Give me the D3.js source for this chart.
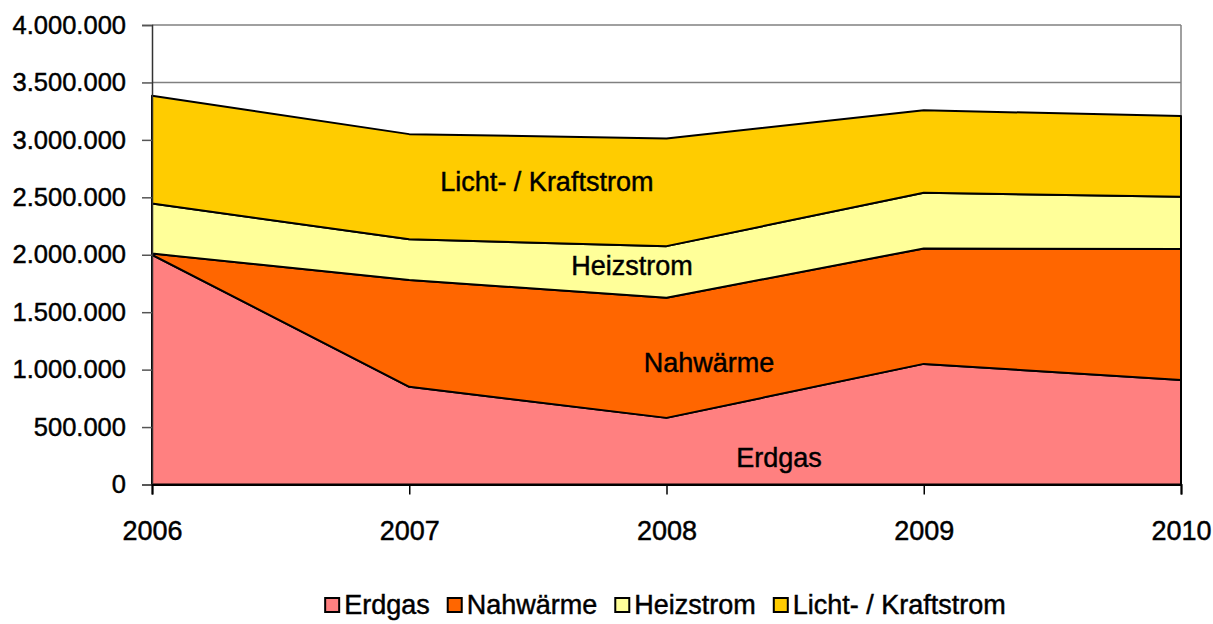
<!DOCTYPE html>
<html>
<head>
<meta charset="utf-8">
<script src="https://cdn.jsdelivr.net/npm/d3@7/dist/d3.min.js"></script>
<style>
  html, body { margin: 0; padding: 0; background: #fff; }
  svg text { font-family: "Liberation Sans", Arial, sans-serif; fill: #000; stroke: #000; stroke-width: 0.45px; }
</style>
</head>
<body>
<svg id="chart" width="1213" height="624"></svg>
<script>
// ---- Data ----
const years = [2006, 2007, 2008, 2009, 2010];
const seriesNames = ["Erdgas", "Nahwärme", "Heizstrom", "Licht- / Kraftstrom"];
const erdgas    = [2000000,  850000,  580000, 1050000,  910000];
const nahwaerme = [  10000,  930000, 1045000, 1005000, 1140000];
const heizstrom = [ 437000,  354000,  450000,  484000,  455000];
const licht     = [ 937000,  916000,  937000,  719000,  702000];
const colors    = ["#FF8080", "#FF6600", "#FFFF99", "#FFCC00"];
const yTicks    = [0, 500000, 1000000, 1500000, 2000000, 2500000, 3000000, 3500000, 4000000];
// in-chart label anchors (year position, value)
const labelYears  = [2008.437, 2008.165, 2007.866, 2007.535];
const labelValues = [ 231000, 1057000, 1902000, 2633000];

(function () {
const svg = d3.select("#chart");
const mLeft = 152, mRight = 1181, mTop = 25, mBottom = 484.5;
const FS = 27;

const x = d3.scaleLinear().domain([2006, 2010]).range([mLeft, mRight]);
const y = d3.scaleLinear().domain([0, 4000000]).range([mBottom, mTop]);

const fmt = v => d3.format(",")(v).replace(/,/g, ".");

const table = years.map((yr, i) => ({
  year: yr,
  "Erdgas": erdgas[i],
  "Nahwärme": nahwaerme[i],
  "Heizstrom": heizstrom[i],
  "Licht- / Kraftstrom": licht[i]
}));
const stacked = d3.stack().keys(seriesNames)(table);

// gridlines
svg.append("g").selectAll("line").data(yTicks.filter(d => d > 0)).join("line")
  .attr("x1", mLeft).attr("x2", mRight)
  .attr("y1", d => y(d)).attr("y2", d => y(d))
  .attr("stroke", "#808080").attr("stroke-width", 1.5);
// right border
svg.append("line").attr("x1", mRight).attr("x2", mRight).attr("y1", mTop).attr("y2", mBottom)
  .attr("stroke", "#808080").attr("stroke-width", 1.5);

// areas
const area = d3.area().x(d => x(d.data.year)).y0(d => y(d[0])).y1(d => y(d[1]));
svg.append("g").selectAll("path").data(stacked).join("path")
  .attr("d", area)
  .attr("fill", (d, i) => colors[i])
  .attr("stroke", "#000").attr("stroke-width", 2).attr("stroke-linejoin", "round");

// y axis
const yAxis = d3.axisLeft(y).tickValues(yTicks).tickFormat(fmt).tickSize(10).tickPadding(16);
const gy = svg.append("g").attr("transform", `translate(${mLeft},0)`).call(yAxis);
gy.select(".domain").attr("stroke", "#333").attr("stroke-width", 1.5);
gy.selectAll(".tick line").attr("stroke", "#555").attr("stroke-width", 1.5);
gy.selectAll(".tick text").attr("font-size", 25.5).attr("font-family", "Liberation Sans, Arial, sans-serif").attr("fill", "#000");

// x axis
const xAxis = d3.axisBottom(x).tickValues(years).tickFormat(d3.format("d")).tickSize(10).tickPadding(26);
const gx = svg.append("g").attr("transform", `translate(0,${mBottom})`).call(xAxis);
gx.select(".domain").attr("stroke", "#000").attr("stroke-width", 2);
gx.selectAll(".tick line").attr("stroke", "#000").attr("stroke-width", 1.5);
gx.selectAll(".tick text").attr("font-size", FS).attr("font-family", "Liberation Sans, Arial, sans-serif").attr("fill", "#000");

// in-chart labels
svg.append("g").selectAll("text").data(seriesNames).join("text")
  .attr("x", (d, i) => x(labelYears[i]))
  .attr("y", (d, i) => y(labelValues[i]))
  .attr("text-anchor", "middle").attr("dominant-baseline", "central")
  .attr("font-size", FS)
  .text(d => d);

// legend
const lg = svg.append("g");
const items = lg.selectAll("g").data(seriesNames).join("g");
items.append("rect").attr("width", 14).attr("height", 14)
  .attr("fill", (d, i) => colors[i]).attr("stroke", "#000").attr("stroke-width", 2);
items.append("text").attr("x", 19).attr("y", 7).attr("dominant-baseline", "central")
  .attr("font-size", FS).text(d => d);
let cx = 0;
const offs = [];
items.each(function () {
  const w = this.querySelector("text").getComputedTextLength();
  offs.push(cx);
  cx += 19 + w + 18;
});
const total = cx - 18;
const startX = 665.5 - total / 2;
items.attr("transform", (d, i) => `translate(${startX + offs[i]},598)`);
})();
</script>
</body>
</html>
